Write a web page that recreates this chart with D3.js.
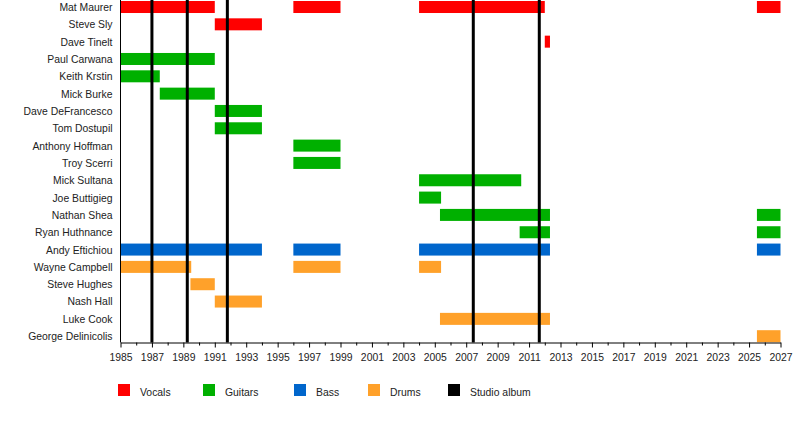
<!DOCTYPE html>
<html>
<head>
<meta charset="utf-8">
<script src="https://cdnjs.cloudflare.com/ajax/libs/d3/7.8.5/d3.min.js"></script>
<style>
  body { margin: 0; background: #fff; }
  svg text { font-family: "Liberation Sans", Arial, sans-serif; fill: #222; }
</style>
</head>
<body>
<div id="chart"></div>
<script>
// band members, top to bottom
const members = [
    "Mat Maurer", "Steve Sly", "Dave Tinelt", "Paul Carwana", "Keith Krstin",
    "Mick Burke", "Dave DeFrancesco", "Tom Dostupil", "Anthony Hoffman", "Troy Scerri",
    "Mick Sultana", "Joe Buttigieg", "Nathan Shea", "Ryan Huthnance", "Andy Eftichiou",
    "Wayne Campbell", "Steve Hughes", "Nash Hall", "Luke Cook", "George Delinicolis"
];

const roles = ["Vocals", "Guitars", "Bass", "Drums", "Studio album"];
const roleColors = ["#ff0000", "#00b000", "#0066cc", "#ffa12a", "#000000"];

// [member, role, from, to]
const spans = [
    ["Mat Maurer", "Vocals", 1985, 1991],
    ["Mat Maurer", "Vocals", 1996, 1999],
    ["Mat Maurer", "Vocals", 2004, 2012],
    ["Mat Maurer", "Vocals", 2025.5, 2027],
    ["Steve Sly", "Vocals", 1991, 1994],
    ["Dave Tinelt", "Vocals", 2012, 2012.33],
    ["Paul Carwana", "Guitars", 1985, 1991],
    ["Keith Krstin", "Guitars", 1985, 1987.5],
    ["Mick Burke", "Guitars", 1987.5, 1991],
    ["Dave DeFrancesco", "Guitars", 1991, 1994],
    ["Tom Dostupil", "Guitars", 1991, 1994],
    ["Anthony Hoffman", "Guitars", 1996, 1999],
    ["Troy Scerri", "Guitars", 1996, 1999],
    ["Mick Sultana", "Guitars", 2004, 2010.5],
    ["Joe Buttigieg", "Guitars", 2004, 2005.4],
    ["Nathan Shea", "Guitars", 2005.33, 2012.33],
    ["Nathan Shea", "Guitars", 2025.5, 2027],
    ["Ryan Huthnance", "Guitars", 2010.4, 2012.33],
    ["Ryan Huthnance", "Guitars", 2025.5, 2027],
    ["Andy Eftichiou", "Bass", 1985, 1994],
    ["Andy Eftichiou", "Bass", 1996, 1999],
    ["Andy Eftichiou", "Bass", 2004, 2012.33],
    ["Andy Eftichiou", "Bass", 2025.5, 2027],
    ["Wayne Campbell", "Drums", 1985, 1989.5],
    ["Wayne Campbell", "Drums", 1996, 1999],
    ["Wayne Campbell", "Drums", 2004, 2005.4],
    ["Steve Hughes", "Drums", 1989.45, 1991],
    ["Nash Hall", "Drums", 1991, 1994],
    ["Luke Cook", "Drums", 2005.33, 2012.33],
    ["George Delinicolis", "Drums", 2025.5, 2027]
];

// studio album release dates
const albums = [1987.0, 1989.25, 1991.8, 2007.45, 2011.65];

const majorTicks = d3.range(1985, 2028, 2);
const minorTicks = d3.range(1986, 2027, 2);

const width = 800, height = 422;

const svg = d3.select("#chart").append("svg")
    .attr("width", width)
    .attr("height", height);

const x = d3.scaleLinear().domain([1985, 2027]).range([120.5, 780.5]);

const y = d3.scaleBand()
    .domain(members)
    .range([-1.6, 344.8])
    .paddingInner(0.307)
    .paddingOuter(0.15);

const color = d3.scaleOrdinal().domain(roles).range(roleColors);
const axisY = 342.5;
const fontSize = "10.4px";

// bars
svg.append("g").selectAll("rect")
    .data(spans)
    .join("rect")
    .attr("x", d => x(d[2]))
    .attr("y", d => y(d[0]))
    .attr("width", d => x(d[3]) - x(d[2]))
    .attr("height", y.bandwidth())
    .attr("fill", d => color(d[1]));

// album lines
svg.append("g").selectAll("line")
    .data(albums)
    .join("line")
    .attr("x1", d => x(d)).attr("x2", d => x(d))
    .attr("y1", 0).attr("y2", axisY)
    .attr("stroke", "#000")
    .attr("stroke-width", 3);

// member names
svg.append("g").selectAll("text")
    .data(members)
    .join("text")
    .attr("x", 112.5)
    .attr("y", d => y(d) + y.bandwidth() / 2 + 0.3)
    .attr("dy", "0.35em")
    .attr("text-anchor", "end")
    .style("font-size", fontSize)
    .text(d => d);

// left axis line
svg.append("line")
    .attr("x1", 120.5).attr("x2", 120.5)
    .attr("y1", 0).attr("y2", axisY)
    .attr("stroke", "#000");

// bottom axis, labelled ticks
const xAxis = svg.append("g")
    .attr("transform", `translate(0,${axisY})`)
    .call(d3.axisBottom(x).tickValues(majorTicks).tickFormat(d3.format("d")).tickSize(5).tickSizeOuter(0));
xAxis.select(".domain").attr("stroke", "#000");
xAxis.selectAll("text")
    .style("font-family", "'Liberation Sans', Arial, sans-serif")
    .style("font-size", fontSize)
    .attr("fill", "#222")
    .attr("y", 11);

// minor ticks
svg.append("g").selectAll("line")
    .data(minorTicks)
    .join("line")
    .attr("x1", d => x(d) + 0.5).attr("x2", d => x(d) + 0.5)
    .attr("y1", axisY).attr("y2", axisY + 3)
    .attr("stroke", "#000");

// legend
const legendX = [118, 203, 294, 368, 448];
const legend = svg.append("g").selectAll("g")
    .data(roles)
    .join("g")
    .attr("transform", (d, i) => `translate(${legendX[i]},384)`);
legend.append("rect")
    .attr("width", 12).attr("height", 12)
    .attr("fill", d => color(d));
legend.append("text")
    .attr("x", 22).attr("y", 8)
    .attr("dy", "0.35em")
    .style("font-size", fontSize)
    .text(d => d);
</script>
</body>
</html>
